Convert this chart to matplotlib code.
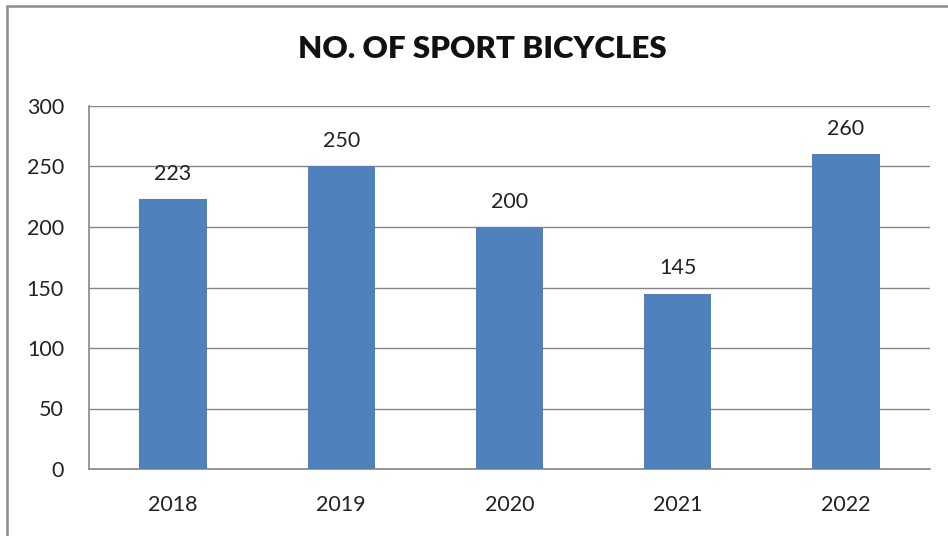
import matplotlib
matplotlib.use("Agg")
import matplotlib.pyplot as plt
from matplotlib.patches import Rectangle

years = ["2018", "2019", "2020", "2021", "2022"]
counts = [223, 250, 200, 145, 260]
yticks = [0, 50, 100, 150, 200, 250, 300]
title = "NO. OF SPORT BICYCLES"

plt.rcParams['font.family'] = ['Lato', 'DejaVu Sans']
W, H = 948, 536
fig = plt.figure(figsize=(W/100, H/100), dpi=100)
ax = fig.add_axes([89/W, 1-469/H, (930-89)/W, (469-106)/H])

x = list(range(len(years)))
bars = ax.bar(x, counts, width=0.40, color='#4F81BD', zorder=3)
ax.set_xlim(-0.5, len(years)-0.5)
ax.set_ylim(0, 300)
ax.set_yticks(yticks)
ax.set_yticklabels([str(t) for t in yticks])
ax.set_xticks(x)
ax.set_xticklabels(years)
ax.tick_params(axis='both', length=0, labelsize=15.5, colors='#222222')
ax.tick_params(axis='y', pad=18)
ax.tick_params(axis='x', pad=19)
ax.grid(axis='y', color='#868686', linewidth=1.0, zorder=0)
for s in ['top', 'right']:
    ax.spines[s].set_visible(False)
for s in ['left', 'bottom']:
    ax.spines[s].set_color('#868686')
    ax.spines[s].set_linewidth(1.2)

for xi, v in zip(x, counts):
    ax.annotate(str(v), (xi, v), xytext=(0, 11), textcoords='offset points',
                ha='center', va='bottom', fontsize=15.5, color='#222222')

fig.text(482/W, 1-49/H, title, ha='center', va='center', fontsize=22.5,
         fontweight='heavy', color='#111111')

fig.patches.append(Rectangle((7/W, -0.1), 1.2, 1-6/H+0.1, transform=fig.transFigure,
                             fill=False, edgecolor='#8c8c8c', linewidth=1.8))

fig.savefig('out.png', dpi=100)
